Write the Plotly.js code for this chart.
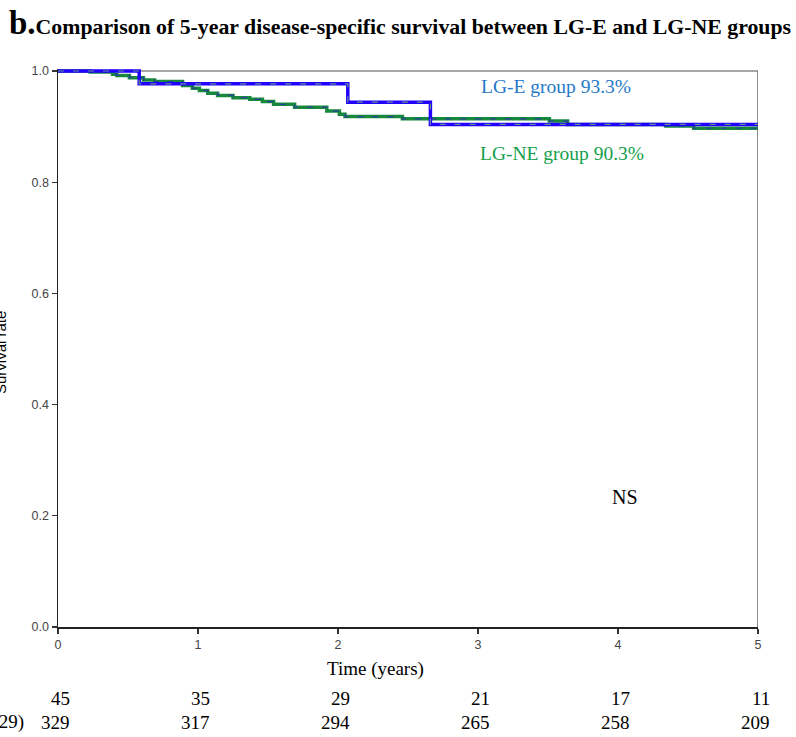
<!DOCTYPE html>
<html>
<head>
<meta charset="utf-8">
<script src="https://cdn.plot.ly/plotly-3.0.1.min.js"></script>
<style>html,body{margin:0;padding:0;background:#fff;}#chart{width:796px;height:737px;}</style>
</head>
<body>
<div id="chart"></div>
<script>
// LG-E group (blue) Kaplan-Meier steps
var lgeTime = [0, 0.58, 2.07, 2.66, 5];
var lgeSurv = [1, 0.977, 0.944, 0.904, 0.904];
// LG-NE group (green) Kaplan-Meier steps
var lgneTime = [0, 0.23, 0.39, 0.42, 0.51, 0.61, 0.69, 0.89, 0.96, 1.01, 1.07, 1.14, 1.25, 1.37, 1.46, 1.54, 1.69, 1.92, 2.01, 2.05, 2.46, 3.51, 3.64, 4.34, 4.54, 5];
var lgneSurv = [1, 0.998, 0.994, 0.992, 0.988, 0.984, 0.981, 0.974, 0.969, 0.965, 0.960, 0.956, 0.952, 0.949, 0.945, 0.940, 0.935, 0.928, 0.922, 0.918, 0.914, 0.910, 0.904, 0.901, 0.897, 0.897];
// Number at risk
var riskTimes = [0, 1, 2, 3, 4, 5];
var riskLGE = [45, 35, 29, 21, 17, 11];
var riskLGNE = [329, 317, 294, 265, 258, 209];
var yTicks = [0, 0.2, 0.4, 0.6, 0.8, 1.0];
var xTicks = [0, 1, 2, 3, 4, 5];

var blue = '#2200ff', green = '#17893d';
var traces = [
  {x: lgneTime, y: lgneSurv, mode: 'lines', line: {shape: 'hv', color: green, width: 3.5}, hoverinfo: 'skip'},
  {x: lgneTime, y: lgneSurv, mode: 'lines', line: {shape: 'hv', color: '#2a3fa0', width: 1.2, dash: '6px,9px'}, hoverinfo: 'skip'},
  {x: lgeTime, y: lgeSurv, mode: 'lines', line: {shape: 'hv', color: blue, width: 3.5}, hoverinfo: 'skip'},
  {x: lgeTime, y: lgeSurv, mode: 'lines', line: {shape: 'hv', color: '#5f9090', width: 1.2, dash: '6px,9px'}, hoverinfo: 'skip'}
];

var serif = 'Liberation Serif, Times New Roman, serif';
var ann = [
  {xref: 'paper', yref: 'paper', x: -0.073, y: 1, yshift: 26, xanchor: 'left', yanchor: 'bottom', showarrow: false,
   text: '<b><span style="font-size:33px">b.</span>Comparison of 5-year disease-specific survival between LG-E and LG-NE groups</b>',
   font: {family: serif, size: 21.8, color: '#000'}},
  {xref: 'x', yref: 'y', x: 3.01, y: 0.973, xanchor: 'left', yanchor: 'middle', showarrow: false,
   text: 'LG-E group 93.3%', font: {family: serif, size: 19.5, color: '#1f78c8'}},
  {xref: 'x', yref: 'y', x: 3.0, y: 0.852, xanchor: 'left', yanchor: 'middle', showarrow: false,
   text: 'LG-NE group 90.3%', font: {family: serif, size: 19.5, color: '#12a04a'}},
  {xref: 'x', yref: 'y', x: 4.05, y: 0.233, xanchor: 'center', yanchor: 'middle', showarrow: false,
   text: 'NS', font: {family: serif, size: 20, color: '#000'}},
  {xref: 'paper', yref: 'paper', x: 0.453, y: 0, yshift: -42, xanchor: 'center', yanchor: 'middle', showarrow: false,
   text: 'Time (years)', font: {family: serif, size: 19, color: '#000'}},
  {xref: 'paper', yref: 'paper', x: 0, y: 0.5, xshift: -58, yshift: -5, xanchor: 'center', yanchor: 'middle', showarrow: false,
   textangle: -90, text: 'Survival rate', font: {family: 'Liberation Sans, Arial, sans-serif', size: 15, color: '#000'}},
  {xref: 'paper', yref: 'paper', x: 0, y: 0, xshift: -32, yshift: -95, xanchor: 'right', yanchor: 'middle', showarrow: false,
   text: 'LG-NE (n=329)', font: {family: serif, size: 19, color: '#000'}}
];
for (var i = 0; i < riskTimes.length; i++) {
  ann.push({xref: 'x', yref: 'paper', x: riskTimes[i], y: 0, xshift: 14, yshift: -71, xanchor: 'right', yanchor: 'middle', showarrow: false,
    text: String(riskLGE[i]), font: {family: serif, size: 19, color: '#000'}});
  ann.push({xref: 'x', yref: 'paper', x: riskTimes[i], y: 0, xshift: 14, yshift: -95, xanchor: 'right', yanchor: 'middle', showarrow: false,
    text: String(riskLGNE[i]), font: {family: serif, size: 19, color: '#000'}});
}

var layout = {
  width: 796, height: 737,
  margin: {l: 58, r: 38, t: 69, b: 110},
  paper_bgcolor: '#fff', plot_bgcolor: '#fff',
  showlegend: false,
  xaxis: {range: [0, 5], tickvals: xTicks, ticktext: xTicks.map(String), ticks: 'outside', ticklen: 5, tickcolor: '#333', tickwidth: 1.2,
    showline: true, linecolor: '#222', linewidth: 1.5, showgrid: false, zeroline: false,
    tickfont: {family: 'Liberation Sans, Arial, sans-serif', size: 12.5, color: '#444'}},
  yaxis: {range: [0, 1.0036], tickvals: yTicks, ticktext: yTicks.map(function(v){return v.toFixed(1);}), ticks: 'outside', ticklen: 5, tickcolor: '#333', tickwidth: 1.2,
    showline: true, linecolor: '#222', linewidth: 1.5, showgrid: false, zeroline: false,
    tickfont: {family: 'Liberation Sans, Arial, sans-serif', size: 12.5, color: '#444'}},
  shapes: [
    {type: 'line', xref: 'x', yref: 'y', x0: 0, x1: 5, y0: 1, y1: 1, layer: 'below', line: {color: '#8a8a8a', width: 1.5}},
    {type: 'line', xref: 'x', yref: 'y', x0: 5, x1: 5, y0: 0, y1: 1, layer: 'below', line: {color: '#666', width: 1.5}}
  ],
  annotations: ann
};
Plotly.newPlot('chart', traces, layout, {staticPlot: true, displayModeBar: false});
</script>
</body>
</html>
